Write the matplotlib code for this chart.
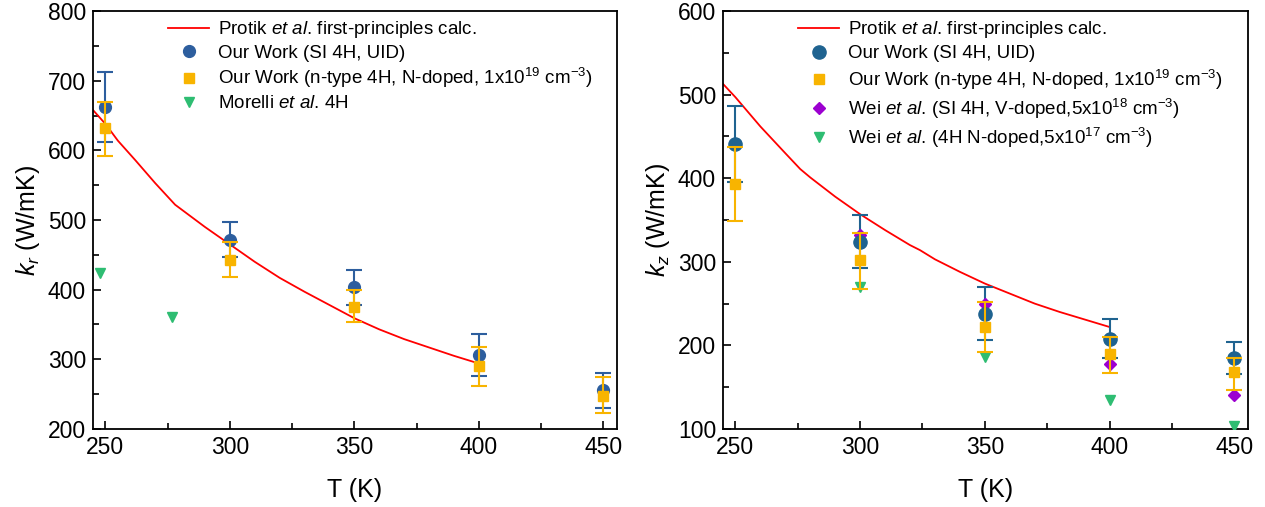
import numpy as np
import matplotlib
matplotlib.use('Agg')
import matplotlib.pyplot as plt
from matplotlib.ticker import MultipleLocator
from matplotlib.lines import Line2D

plt.rcParams['font.family'] = ['Liberation Sans', 'DejaVu Sans']
plt.rcParams['mathtext.fontset'] = 'custom'
plt.rcParams['mathtext.rm'] = 'Liberation Sans'
plt.rcParams['mathtext.it'] = 'Liberation Sans:italic'
plt.rcParams['mathtext.bf'] = 'Liberation Sans:bold'

# === Panel (a): in-plane k_r ===
protik_r_T = [245, 250, 255, 262, 270, 278, 290, 300, 310, 320, 330, 340, 350, 360, 370, 380, 390, 400]
protik_r_k = [658, 638, 614, 586, 553, 522, 490, 465, 440, 417, 397, 378, 359, 343, 329, 317, 305, 294]

T_meas = [250, 300, 350, 400, 450]
uid_r = [662, 472, 404, 306, 256]
uid_r_lo = [612, 447, 378, 276, 230]
uid_r_hi = [712, 497, 428, 336, 280]
ndop_r = [632, 443, 375, 290, 248]
ndop_r_lo = [592, 418, 353, 261, 223]
ndop_r_hi = [670, 468, 399, 318, 274]

morelli_T = [247.8, 276.8]
morelli_k = [424, 361]

# === Panel (b): cross-plane k_z ===
protik_z_T = [245, 250, 260, 270, 276, 280, 290, 300, 310, 320, 324, 330, 340, 350, 360, 370, 380, 390, 400]
protik_z_k = [513, 497, 462, 430, 411, 401, 378, 357, 338, 320, 314, 303, 288, 274, 262, 250, 240, 231, 222]

uid_z = [441, 324, 238, 208, 185]
uid_z_lo = [396, 292, 206, 185, 166]
uid_z_hi = [486, 356, 270, 232, 204]
ndop_z = [393, 302, 222, 190, 168]
ndop_z_lo = [349, 268, 192, 167, 147]
ndop_z_hi = [437, 334, 252, 210, 185]
wei_v = [332, 249, 178, 141]
wei_v_T = [300, 350, 400, 450]
wei_n = [270, 186, 135, 104]
wei_n_T = [300, 350, 400, 450]

lab_protik = r'Protik $\mathit{et\ al}$. first-principles calc.'
lab_uid = 'Our Work (SI 4H, UID)'
lab_ndop = r'Our Work (n-type 4H, N-doped, 1x10$^{19}$ cm$^{-3}$)'
lab_morelli = r'Morelli $\mathit{et\ al}$. 4H'
lab_wei_v = r'Wei $\mathit{et\ al}$. (SI 4H, V-doped,5x10$^{18}$ cm$^{-3}$)'
lab_wei_n = r'Wei $\mathit{et\ al}$. (4H N-doped,5x10$^{17}$ cm$^{-3}$)'

RED = '#FF0000'
BLUE_A = '#2D5E9E'
BLUE_B = '#1F6390'
YEL = '#F8B400'
GRN = '#2EBD72'
PUR = '#9C00D0'

fig = plt.figure(figsize=(12.65, 5.07), dpi=100)
ax1 = fig.add_axes([0.0735, 0.154, 0.4142, 0.824])
ax2 = fig.add_axes([0.5715, 0.154, 0.4150, 0.824])


def errs(v, lo, hi):
    v = np.array(v)
    return [v - np.array(lo), np.array(hi) - v]


def style(ax, ylim, ymaj, ylabel):
    ax.set_xlim(245, 455.5)
    ax.set_ylim(*ylim)
    ax.xaxis.set_major_locator(MultipleLocator(50))
    ax.xaxis.set_minor_locator(MultipleLocator(25))
    ax.yaxis.set_major_locator(MultipleLocator(ymaj))
    ax.yaxis.set_minor_locator(MultipleLocator(ymaj / 2))
    ax.tick_params(which='both', direction='in', top=False, right=False, labelsize=16.5)
    ax.tick_params(which='major', length=6, width=1.2, pad=5)
    ax.tick_params(which='minor', length=4, width=1.2)
    for s in ax.spines.values():
        s.set_linewidth(1.3)
    ax.set_xlabel('T (K)', fontsize=18, labelpad=14)
    ax.set_ylabel(ylabel, fontsize=18, labelpad=4)


def mk(marker, color, ms):
    return Line2D([], [], marker=marker, color=color, ms=ms, ls='none')


def legend(ax, handles, labels, spacing):
    ax.legend(handles, labels, loc='upper left', bbox_to_anchor=(0.118, 1.012), frameon=False,
              fontsize=13.5, handlelength=2.2, handletextpad=0.45, labelspacing=spacing,
              borderaxespad=0.3)


# --- left ---
ax1.plot(protik_r_T, protik_r_k, color=RED, lw=1.3, zorder=2)
ax1.errorbar(T_meas, uid_r, yerr=errs(uid_r, uid_r_lo, uid_r_hi), fmt='o', color=BLUE_A,
             ms=8.5, capsize=5.5, elinewidth=1.5, capthick=1.5, zorder=3)
ax1.errorbar(T_meas, ndop_r, yerr=errs(ndop_r, ndop_r_lo, ndop_r_hi), fmt='s', color=YEL,
             ms=6.5, capsize=5.5, elinewidth=1.5, capthick=1.5, zorder=4)
ax1.plot(morelli_T, morelli_k, 'v', color=GRN, ms=7.5, ls='none', zorder=3)
style(ax1, (200, 800), 100, r'$k_r$ (W/mK)')
legend(ax1,
       [Line2D([], [], color=RED, lw=1.3), mk('o', BLUE_A, 8.5), mk('s', YEL, 6.5), mk('v', GRN, 7.5)],
       [lab_protik, lab_uid, lab_ndop, lab_morelli], 0.24)

# --- right ---
ax2.plot(protik_z_T, protik_z_k, color=RED, lw=1.3, zorder=2)
ax2.errorbar(T_meas, uid_z, yerr=errs(uid_z, uid_z_lo, uid_z_hi), fmt='o', color=BLUE_B,
             ms=9.5, capsize=5.5, elinewidth=1.5, capthick=1.5, zorder=3)
ax2.errorbar(T_meas, ndop_z, yerr=errs(ndop_z, ndop_z_lo, ndop_z_hi), fmt='s', color=YEL,
             ms=6.5, capsize=5.5, elinewidth=1.5, capthick=1.5, zorder=4)
ax2.plot(wei_v_T, wei_v, 'D', color=PUR, ms=6.5, ls='none', zorder=3)
ax2.plot(wei_n_T, wei_n, 'v', color=GRN, ms=7.5, ls='none', zorder=3)
style(ax2, (100, 600), 100, r'$k_z$ (W/mK)')
legend(ax2,
       [Line2D([], [], color=RED, lw=1.3), mk('o', BLUE_B, 9.5), mk('s', YEL, 6.5),
        mk('D', PUR, 6.5), mk('v', GRN, 7.5)],
       [lab_protik, lab_uid, lab_ndop, lab_wei_v, lab_wei_n], 0.27)

fig.savefig('out.png', dpi=100)
